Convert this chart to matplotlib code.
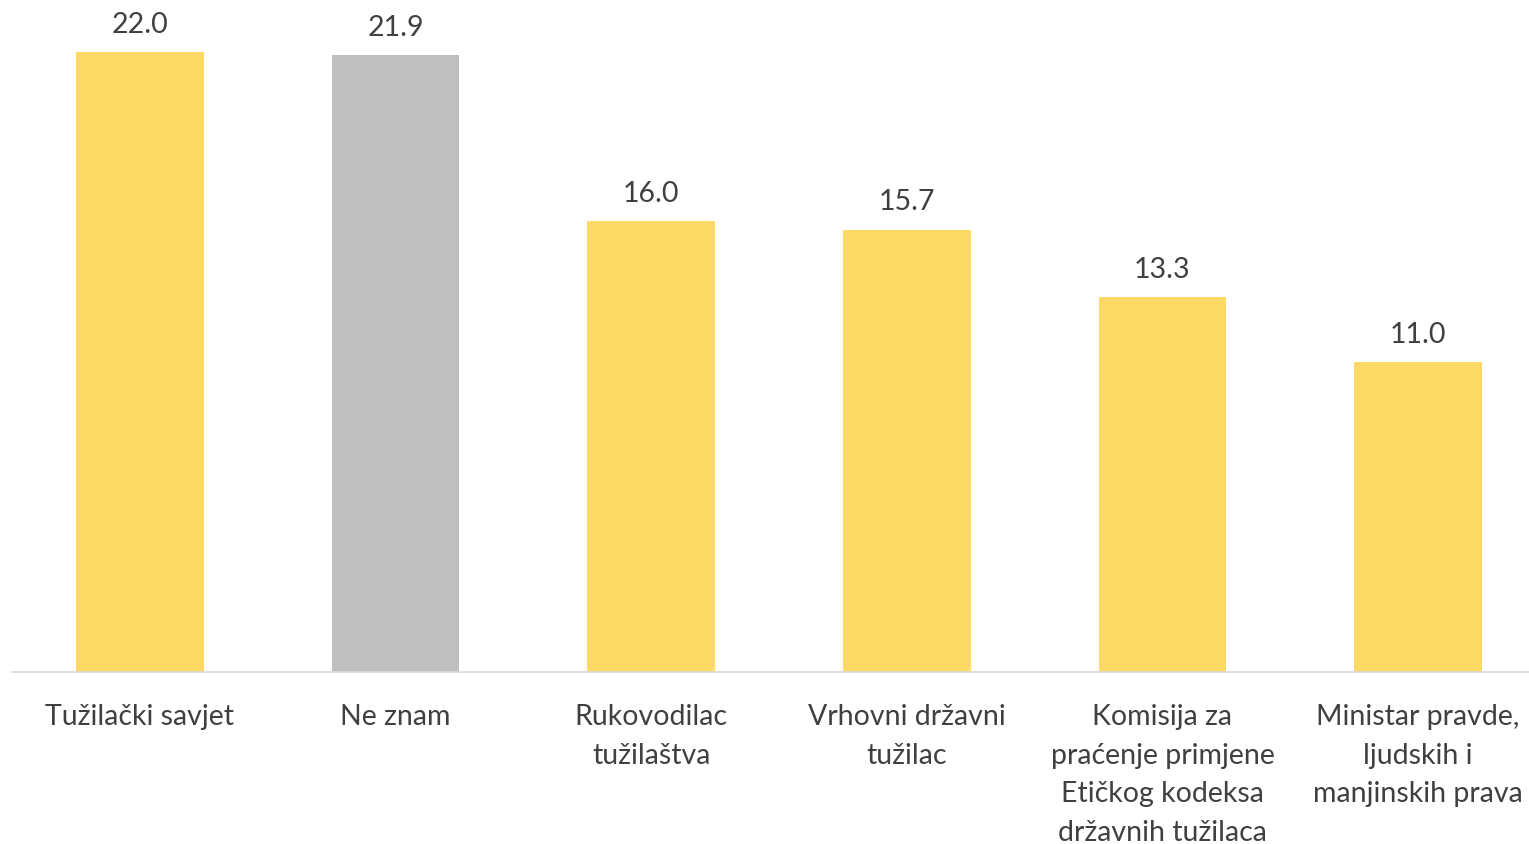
import matplotlib.pyplot as plt

# podaci
kategorije = ["Tužilački savjet", "Ne znam", "Rukovodilac\ntužilaštva",
              "Vrhovni državni\ntužilac",
              "Komisija za\npraćenje primjene\nEtičkog kodeksa\ndržavnih tužilaca",
              "Ministar pravde,\nljudskih i\nmanjinskih prava"]
vrijednosti = [22.0, 21.9, 16.0, 15.7, 13.3, 11.0]
boje = ["#FFD966", "#BFBFBF", "#FFD966", "#FFD966", "#FFD966", "#FFD966"]

plt.rcParams['font.family'] = ['Lato', 'DejaVu Sans']

fig = plt.figure(figsize=(15.29, 8.44), dpi=100)
ax = fig.add_axes([12/1529, (844-672)/844, 1534/1529, 672/844])

x = range(len(vrijednosti))
bars = ax.bar(x, vrijednosti, width=0.50, color=boje)
for b, v in zip(bars, vrijednosti):
    ax.text(b.get_x() + b.get_width()/2, v + 0.5, f"{v:.1f}",
            ha="center", va="bottom", fontsize=20.5, color="#404040")

ax.set_xlim(-0.5, len(vrijednosti) - 0.5)
ax.set_ylim(0, 22 * 672 / 620)
ax.set_xticks(list(x))
ax.set_xticklabels(kategorije, fontsize=20.5, color="#404040", linespacing=1.6)
ax.tick_params(axis="x", length=0, pad=23)
ax.set_yticks([])
for s in ["top", "right", "left"]:
    ax.spines[s].set_visible(False)
ax.spines["bottom"].set_color("#D9D9D9")
ax.spines["bottom"].set_linewidth(1.2)

fig.savefig("out.png", dpi=100)
